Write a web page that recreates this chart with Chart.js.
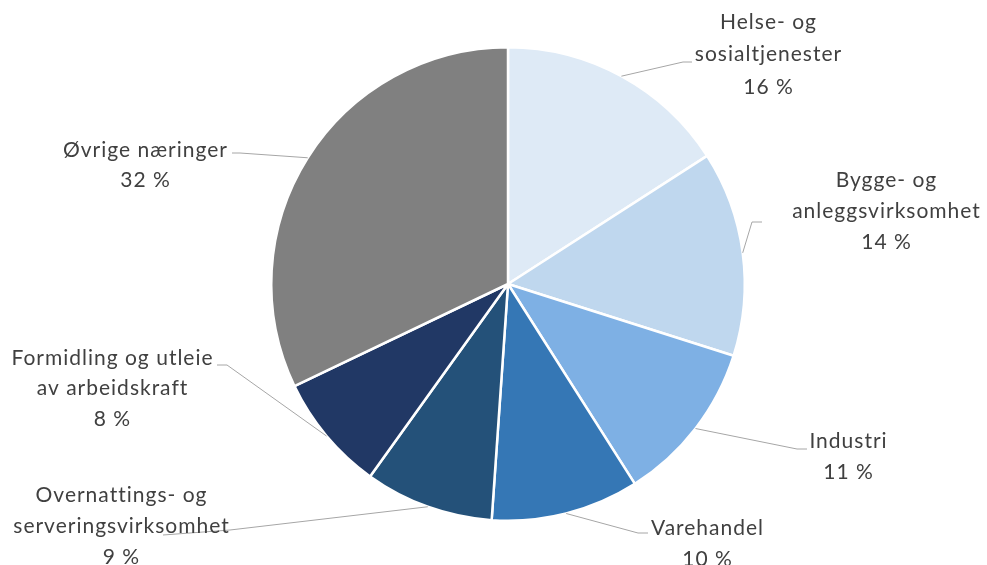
<!DOCTYPE html>
<html>
<head>
<meta charset="utf-8">
<script src="https://cdn.jsdelivr.net/npm/chart.js@4"></script>
<style>
  html, body { margin: 0; padding: 0; background: #fff; }
  #wrap { width: 987px; height: 565px; position: relative; }
</style>
</head>
<body>
<div id="wrap"><canvas id="myChart"></canvas></div>
<script>
// andel sysselsatte etter næring (prosent)
var categories = [
  ["Helse- og", "sosialtjenester"],
  ["Bygge- og", "anleggsvirksomhet"],
  ["Industri"],
  ["Varehandel"],
  ["Overnattings- og", "serveringsvirksomhet"],
  ["Formidling og utleie", "av arbeidskraft"],
  ["Øvrige næringer"]
];
var values = [15.9, 14.0, 11.1, 10.1, 8.8, 8.0, 32.1];

var colors = ["#deeaf6", "#bfd7ee", "#7eb0e4", "#3577b5", "#245179", "#213865", "#808080"];

// plassering av etiketter og ledelinjer (piksler)
var labelLayout = [
  { x: 768, y: 22, lh: 32.5, line: [[683, 62], [692, 62]] },
  { x: 886, y: 180, lh: 31, line: [[752, 222], [762, 222]] },
  { x: 848, y: 441, lh: 31, line: [[797, 449], [807, 449]] },
  { x: 707, y: 528, lh: 31, line: [[638, 533], [648, 533]] },
  { x: 121, y: 495, lh: 31, line: [[230, 530], [163, 535]] },
  { x: 112, y: 358, lh: 30.5, line: [[227, 365], [217, 365]] },
  { x: 145, y: 150, lh: 30, line: [[240, 153], [232, 153]] }
];

var total = values.reduce(function (a, b) { return a + b; }, 0);

var labelPlugin = {
  id: "pieLabels",
  afterDraw: function (chart) {
    var ctx = chart.ctx;
    var arcs = chart.getDatasetMeta(0).data;
    ctx.save();
    arcs.forEach(function (arc, i) {
      var p = arc.getProps(["x", "y", "startAngle", "endAngle", "outerRadius"], true);
      var mid = (p.startAngle + p.endAngle) / 2;
      var sx = p.x + Math.cos(mid) * p.outerRadius;
      var sy = p.y + Math.sin(mid) * p.outerRadius;
      var lay = labelLayout[i];
      ctx.strokeStyle = "#a6a6a6";
      ctx.lineWidth = 1;
      ctx.beginPath();
      ctx.moveTo(sx, sy);
      lay.line.forEach(function (pt) { ctx.lineTo(pt[0], pt[1]); });
      ctx.stroke();

      var lines = categories[i].concat([Math.round(values[i] / total * 100) + " %"]);
      ctx.fillStyle = "#404040";
      ctx.font = "21px Lato";
      ctx.letterSpacing = "1px";
      ctx.textAlign = "center";
      ctx.textBaseline = "middle";
      lines.forEach(function (t, k) {
        ctx.fillText(t, lay.x + 0.5, lay.y + k * lay.lh);
      });
    });
    ctx.restore();
  }
};

var ctx = document.getElementById("myChart").getContext("2d");
var myChart = new Chart(ctx, {
  type: "pie",
  data: {
    labels: categories,
    datasets: [
      {
        data: values,
        backgroundColor: colors,
        borderColor: "#ffffff",
        borderWidth: 2.5
      }
    ]
  },
  options: {
    responsive: true,
    maintainAspectRatio: false,
    animation: false,
    layout: { padding: { left: 270, right: 241, top: 46, bottom: 43 } },
    plugins: {
      legend: { display: false },
      tooltip: { enabled: false }
    }
  },
  plugins: [labelPlugin]
});
</script>
</body>
</html>
